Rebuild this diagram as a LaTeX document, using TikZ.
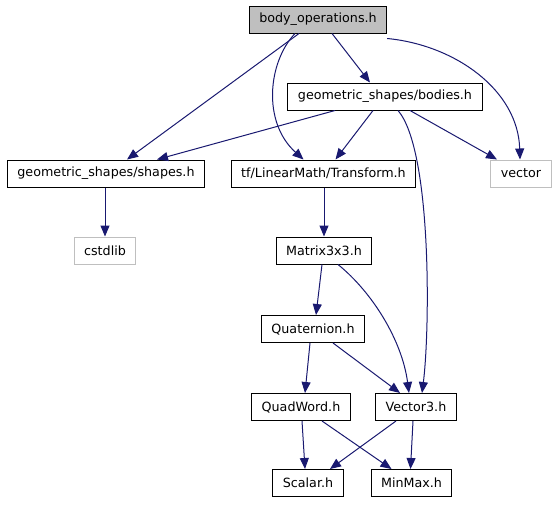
\documentclass[tikz,border=0pt]{standalone}
\usepackage{fontspec}
\setmainfont{DejaVu Sans}
\usetikzlibrary{arrows.meta}
\definecolor{edgeblue}{HTML}{191970}
\definecolor{boxgray}{HTML}{BFBFBF}
\begin{document}
\begin{tikzpicture}[x=1pt,y=-1pt,
  file/.style={draw=black,fill=white,line width=1pt,minimum height=27pt,inner xsep=10pt,inner ysep=0pt,font=\fontsize{12.7}{14}\selectfont,anchor=center},
  sysfile/.style={file,draw=boxgray},
  mainfile/.style={file,fill=boxgray},
  dep/.style={draw=edgeblue,line width=1pt,-{Triangle[length=11pt,width=9pt]}}]
\useasboundingbox (0,0) rectangle (557,504);
\node[mainfile] (bo) at (318,19.5) {body\_operations.h};
\node[file] (bodies) at (385,96.5) {geometric\_shapes/bodies.h};
\node[file] (shapes) at (106,173.5) {geometric\_shapes/shapes.h};
\node[file] (transform) at (323.5,173.5) {tf/LinearMath/Transform.h};
\node[sysfile] (vector) at (521,173.5) {vector};
\node[sysfile] (cstdlib) at (105,250.5) {cstdlib};
\node[file] (matrix) at (324,250.5) {Matrix3x3.h};
\node[file] (quat) at (313,329) {Quaternion.h};
\node[file] (quadword) at (301,407) {QuadWord.h};
\node[file] (vector3) at (416,407) {Vector3.h};
\node[file] (scalar) at (308,483) {Scalar.h};
\node[file] (minmax) at (411.5,483) {MinMax.h};

\draw[dep] ([xshift=-19pt]bo.south) -- ([xshift=21pt]shapes.north);
\draw[dep] ([xshift=-23pt]bo.south) .. controls (268,62) and (262,122) .. ([xshift=-20pt]transform.north);
\draw[dep] ([xshift=14pt]bo.south) -- ([xshift=-15pt]bodies.north);
\draw[dep] ([yshift=-5pt]bo.south east) .. controls (455,45) and (518,90) .. ([xshift=-1pt]vector.north);
\draw[dep] ([xshift=-50pt]bodies.south) -- ([xshift=51pt]shapes.north);
\draw[dep] ([xshift=-12pt]bodies.south) -- ([xshift=12pt]transform.north);
\draw[dep] ([xshift=25pt]bodies.south) -- ([xshift=-24pt]vector.north);
\draw[dep] ([xshift=13pt]bodies.south) .. controls (432,150) and (430,330) .. ([xshift=6pt]vector3.north);
\draw[dep] (shapes.south -| cstdlib.north) -- (cstdlib.north);
\draw[dep] (transform.south -| matrix.north) -- (matrix.north);
\draw[dep] ([xshift=-2pt]matrix.south) -- ([xshift=3pt]quat.north);
\draw[dep] ([xshift=14pt]matrix.south) .. controls (372,292) and (402,340) .. ([xshift=-7pt]vector3.north);
\draw[dep] ([xshift=-3pt]quat.south) -- ([xshift=4pt]quadword.north);
\draw[dep] ([xshift=20pt]quat.south) -- ([xshift=-16pt]vector3.north);
\draw[dep] ([xshift=1pt]quadword.south) -- ([xshift=-3pt]scalar.north);
\draw[dep] ([xshift=21pt]quadword.south) -- ([xshift=-20pt]minmax.north);
\draw[dep] ([xshift=-20pt]vector3.south) -- ([xshift=22pt]scalar.north);
\draw[dep] ([xshift=-3pt]vector3.south) -- ([xshift=-1pt]minmax.north);
\end{tikzpicture}
\end{document}
